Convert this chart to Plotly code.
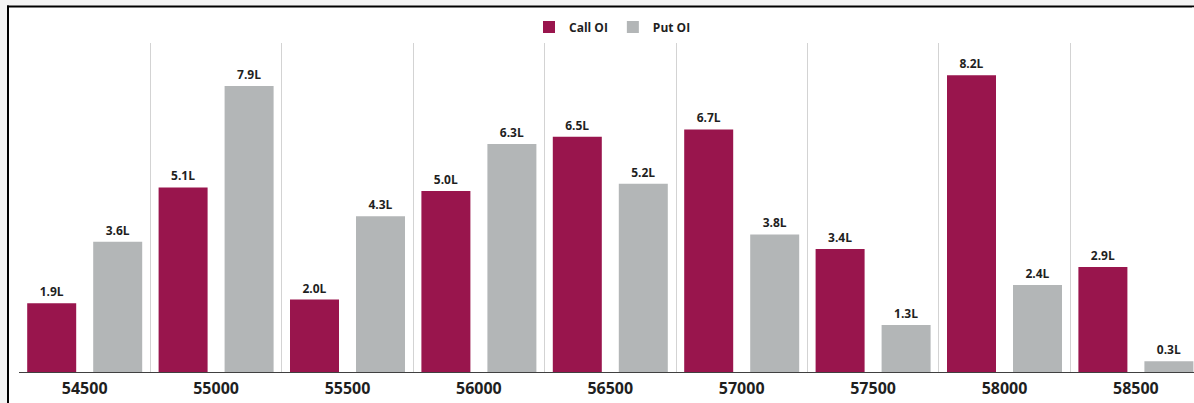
import plotly.graph_objects as go

# Open interest by strike (in lakhs)
strikes = ["54500", "55000", "55500", "56000", "56500", "57000", "57500", "58000", "58500"]
call_oi = [1.9, 5.1, 2.0, 5.0, 6.5, 6.7, 3.4, 8.2, 2.9]
put_oi = [3.6, 7.9, 4.3, 6.3, 5.2, 3.8, 1.3, 2.4, 0.3]

CALL_COLOR = "#99154D"
PUT_COLOR = "#B3B6B7"
TEXT_COLOR = "#1F1F1F"
FONT = "Open Sans"

W, H = 1194, 403
L, T, B = 19, 43, 31
plot_w = W - L
plot_h = H - T - B
cat_px = 131.4  # width of one strike slot

# bar geometry, as fractions of one strike slot
bar_w = 49 / cat_px
inner_gap = 17 / cat_px

pos = list(range(len(strikes)))
x_max = -0.5 + plot_w / cat_px
boundaries = [p - 0.5 for p in pos if p - 0.5 < x_max]


def px_x(px):
    return (px - L) / plot_w


def px_y(px):
    return (H - B - px) / plot_h


fig = go.Figure()
fig.add_trace(go.Bar(
    x=pos, y=call_oi, name="Call OI",
    width=bar_w, offset=-(inner_gap / 2 + bar_w),
    marker=dict(color=CALL_COLOR, line=dict(width=0)),
    text=call_oi, texttemplate="<b>%{text:.1f}L</b>", textposition="outside",
    textfont=dict(family=FONT, size=12, color=TEXT_COLOR), cliponaxis=False,
))
fig.add_trace(go.Bar(
    x=pos, y=put_oi, name="Put OI",
    width=bar_w, offset=inner_gap / 2,
    marker=dict(color=PUT_COLOR, line=dict(width=0)),
    text=put_oi, texttemplate="<b>%{text:.1f}L</b>", textposition="outside",
    textfont=dict(family=FONT, size=12, color=TEXT_COLOR), cliponaxis=False,
))

# page: white panel with a light strip above and to the left, black edge between
frame = [
    (0, W, 0, 5.5, "#F4F4F4", "below"),      # top strip
    (0, 7, 0, H, "#F4F4F4", "below"),        # left strip
    (7, W, 5.5, 7.5, "black", "below"),      # top edge
    (7, 9, 5.5, H, "black", "below"),        # left edge
    (W - 2, W + 2, 7.5, 358, "white", "above"),  # open right side of the panel
]
for x0, x1, y0, y1, col, layer in frame:
    fig.add_shape(type="rect", xref="paper", yref="paper",
                  x0=px_x(x0), x1=px_x(x1), y0=px_y(y1), y1=px_y(y0),
                  fillcolor=col, line=dict(width=0), layer=layer)

fig.update_layout(
    width=W, height=H,
    margin=dict(l=L, r=0, t=T, b=B, pad=0),
    paper_bgcolor="white", plot_bgcolor="white",
    barmode="overlay",
    font=dict(family=FONT, color=TEXT_COLOR),
    showlegend=True,
    legend=dict(orientation="h", x=0.5 + 6 / plot_w, xanchor="center",
                y=1 + (T - 27) / plot_h, yanchor="middle",
                font=dict(family=FONT, size=12, color=TEXT_COLOR, weight="bold"),
                bgcolor="rgba(0,0,0,0)", itemwidth=30),
    xaxis=dict(
        range=[-0.5, x_max],
        tickmode="array", tickvals=pos, ticktext=[f"<b>{s}</b>" for s in strikes],
        tickfont=dict(family=FONT, size=16, color=TEXT_COLOR),
        ticklabelstandoff=2,
        showgrid=False, zeroline=False, ticks="",
        showline=True, linecolor="#404040", linewidth=1,
        minor=dict(tickmode="array", tickvals=boundaries,
                   showgrid=True, gridcolor="#D3D3D3", gridwidth=1, ticks=""),
    ),
    yaxis=dict(range=[0, plot_h / 36.2], visible=False, showgrid=False, zeroline=False),
)

fig.write_html("out.html")
